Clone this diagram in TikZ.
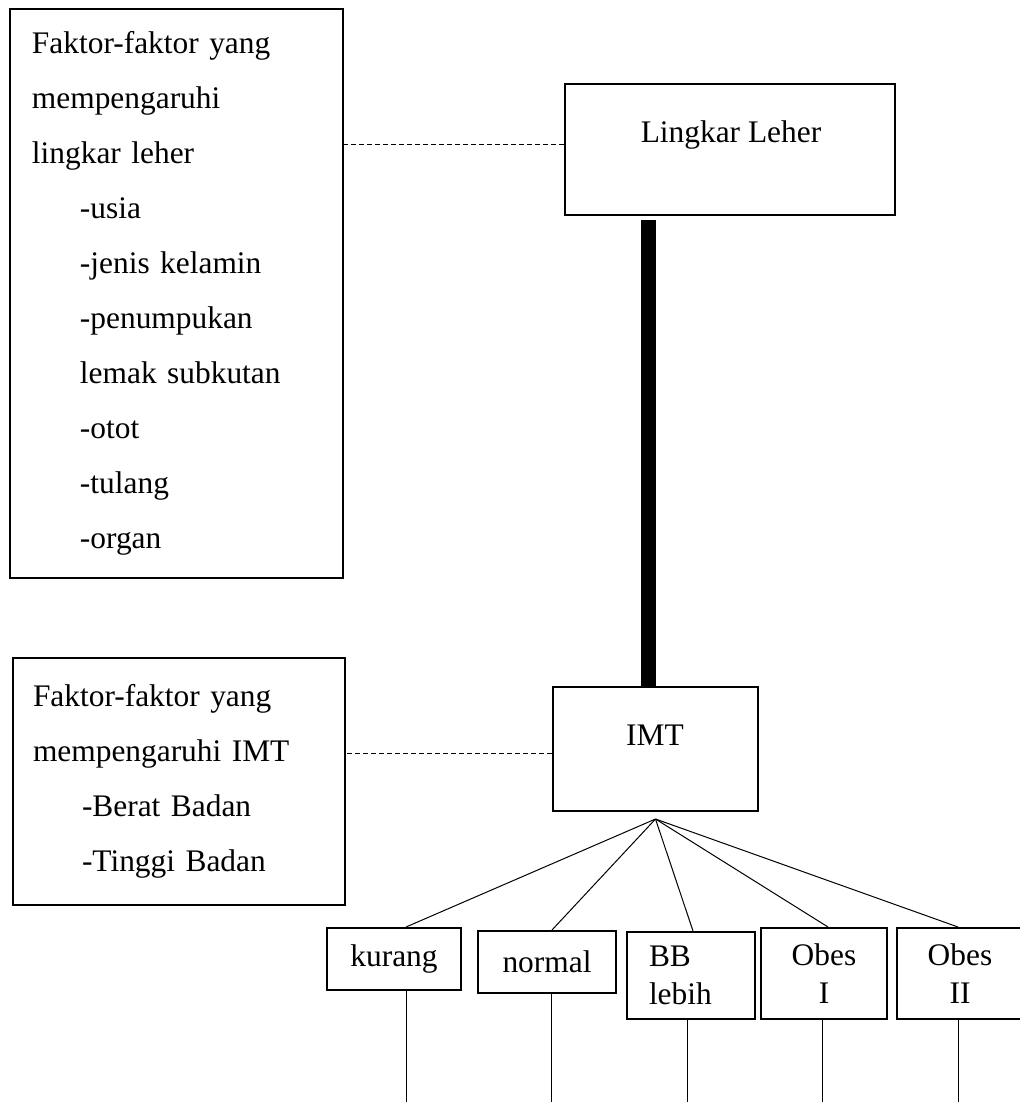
\documentclass[tikz,border=0pt]{standalone}
\usepackage{fontspec}
\setmainfont{Liberation Serif}

\begin{document}
\begin{tikzpicture}[x=0.5pt, y=-0.5pt,
    kotak/.style={draw, line width=1pt, inner sep=0pt, font=\fontsize{15.7}{27.5}\selectfont},
    faktor/.style={kotak, align=left, inner xsep=11pt},
    kelas/.style={kotak, align=center, font=\fontsize{15.7}{19}\selectfont},
    teks/.style={font=\fontsize{15.7}{19}\selectfont, inner sep=0pt},
    garis/.style={line width=0.5pt},
    putus/.style={garis, dash pattern=on 2.5pt off 1.5pt}
  ]
    \useasboundingbox (0,0) rectangle (1019,1102);

    % Faktor lingkar leher
    \node[faktor, text width=144.5pt, minimum height=284.5pt] (faktorleher) at (176.5,293.5)
      {Faktor-faktor yang\\ mempengaruhi\\ lingkar leher\\
       \hspace*{24pt}-usia\\ \hspace*{24pt}-jenis kelamin\\ \hspace*{24pt}-penumpukan\\
       \hspace*{24pt}lemak subkutan\\ \hspace*{24pt}-otot\\ \hspace*{24pt}-tulang\\ \hspace*{24pt}-organ};

    % Faktor IMT
    \node[faktor, inner xsep=10pt, text width=146pt, minimum height=123.5pt] (faktorimt) at (179,781.5)
      {Faktor-faktor yang\\ mempengaruhi IMT\\ \hspace*{24.5pt}-Berat Badan\\ \hspace*{24.5pt}-Tinggi Badan};

    % Lingkar Leher dan IMT
    \node[kotak, minimum width=165pt, minimum height=65.5pt] (leher) at (730,149.5) {};
    \node[teks] (leherteks) at (731,135) {Lingkar Leher};
    \node[kotak, minimum width=102.5pt, minimum height=62pt] (imt) at (655.5,749) {};
    \node[teks] (imtteks) at (655,735) {IMT};

    % Kategori IMT
    \node[kelas, minimum width=67pt, minimum height=31pt] (kurang) at (394,959) {kurang};
    \node[kelas, minimum width=69pt, minimum height=31pt] (normal) at (547,962) {normal};
    \node[kelas, align=left, inner xsep=11pt, text width=42pt, minimum height=43.5pt] (bblebih) at (691,975.5) {BB\\lebih};
    \node[kelas, minimum width=63pt, minimum height=45.5pt] (obes1) at (824,973.5) {Obes\\I};
    \node[kelas, minimum width=63pt, minimum height=45.5pt] (obes2) at (960,973.5) {Obes\\II};

    \coordinate (puncak) at ([yshift=-3.5pt]imt.south);
    \coordinate (dasar) at (0,1102);

    % garis penghubung
    \draw[putus] ([yshift=2.75pt]leher.west) -- ([yshift=2.75pt]leher.west -| faktorleher.east);
    \draw[putus] ([yshift=-2pt]imt.west) -- ([yshift=-2pt]imt.west -| faktorimt.east);
    \draw[line width=7.5pt, shorten <=2pt] ([xshift=-3.75pt]imt.north |- leher.south) -- ([xshift=-3.75pt]imt.north);

    \draw[garis] (puncak) -- ([xshift=6pt]kurang.north);
    \draw[garis] (puncak) -- ([xshift=2.5pt]normal.north);
    \draw[garis] (puncak) -- ([xshift=1pt]bblebih.north);
    \draw[garis] (puncak) -- ([xshift=2pt]obes1.north);
    \draw[garis] (puncak) -- ([xshift=-1pt]obes2.north);

    \draw[garis] ([xshift=6pt]kurang.south) -- ([xshift=6pt]kurang.south |- dasar);
    \draw[garis] ([xshift=2pt]normal.south) -- ([xshift=2pt]normal.south |- dasar);
    \draw[garis] ([xshift=-2pt]bblebih.south) -- ([xshift=-2pt]bblebih.south |- dasar);
    \draw[garis] ([xshift=-1pt]obes1.south) -- ([xshift=-1pt]obes1.south |- dasar);
    \draw[garis] ([xshift=-1pt]obes2.south) -- ([xshift=-1pt]obes2.south |- dasar);
  \end{tikzpicture}
\end{document}
